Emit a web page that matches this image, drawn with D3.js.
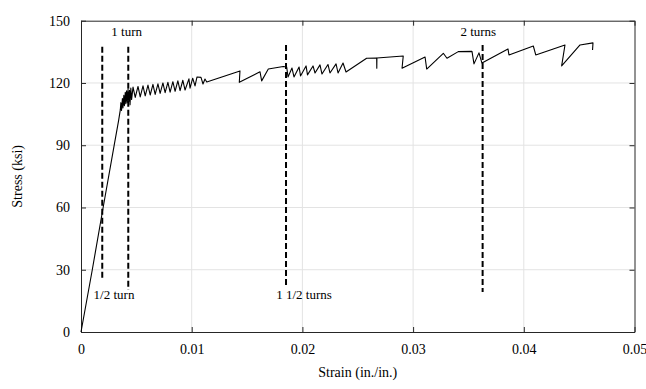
<!DOCTYPE html>
<html><head><meta charset="utf-8">
<script src="https://cdn.jsdelivr.net/npm/d3@7"></script>
<style>
body{margin:0;background:#fff;}
svg text{font-family:"Liberation Serif","Times New Roman",serif !important;fill:#000;}
</style></head>
<body><svg id="c" width="646" height="389"></svg>
<script>
const xTicks = [0, 0.01, 0.02, 0.03, 0.04, 0.05];
const xTickLabels = ["0", "0.01", "0.02", "0.03", "0.04", "0.05"];
const yTicks = [0, 30, 60, 90, 120, 150];
const yTickLabels = ["0", "30", "60", "90", "120", "150"];

const strain = [
 0, 0.00102, 0.00200, 0.00300, 0.00340, 0.00355,
 0.00360, 0.00366, 0.00374, 0.00379, 0.00387, 0.00392, 0.00400, 0.00405, 0.00412, 0.00418,
 0.00425, 0.00431, 0.00438, 0.00443, 0.00450, 0.00457,
 0.00470, 0.00490, 0.00515, 0.00535, 0.00560, 0.00580, 0.00605, 0.00625, 0.00650, 0.00670,
 0.00695, 0.00715, 0.00740, 0.00760, 0.00785, 0.00805, 0.00830, 0.00850, 0.00875, 0.00895,
 0.00920, 0.00940, 0.00975, 0.00985, 0.01009,
 0.01030, 0.01048, 0.01084, 0.01102, 0.01120, 0.01136,
 0.01436, 0.01430, 0.01617, 0.01632, 0.01692, 0.01827,
 0.01858, 0.01870, 0.01906, 0.01924, 0.01970, 0.01983, 0.02033, 0.02046, 0.02096, 0.02114,
 0.02159, 0.02177, 0.02231, 0.02249, 0.02304, 0.02322, 0.02367, 0.02394,
 0.02580, 0.02671, 0.02672, 0.02673, 0.02911, 0.02900,
 0.03108, 0.03123, 0.03273, 0.03306, 0.03408, 0.03532, 0.03550, 0.03595, 0.03622,
 0.03857, 0.03866, 0.04086, 0.04108, 0.04372, 0.04342, 0.04508, 0.04625, 0.04621
];
const stress = [
 0, 30.0, 60.0, 90.0, 102.0, 107.0,
 110.5, 106.8, 112.5, 108.0, 114.0, 109.0, 115.5, 110.0, 116.2, 110.5,
 117.0, 111.0, 116.5, 109.5, 117.5, 112.0,
 118.0, 113.0, 118.3, 113.3, 118.6, 113.8, 119.0, 114.2, 119.3, 114.5,
 119.6, 115.0, 120.0, 115.3, 120.3, 115.6, 120.6, 116.0, 121.0, 116.3,
 121.3, 116.6, 122.0, 117.5, 122.3,
 118.6, 122.9, 122.7, 119.5, 121.9, 120.5,
 125.8, 120.3, 125.4, 121.0, 126.7, 127.9,
 127.7, 122.9, 127.2, 122.9, 127.7, 123.4, 128.2, 123.9, 128.2, 124.8,
 128.7, 124.3, 128.9, 124.8, 129.2, 124.8, 129.6, 125.3,
 131.9, 132.0, 127.1, 132.0, 133.0, 127.1,
 132.5, 126.7, 134.3, 131.9, 135.1, 135.2, 129.2, 134.5, 129.6,
 136.4, 133.5, 137.8, 133.5, 138.3, 128.2, 138.3, 139.3, 135.9
];

const turnStrain = [0.00192, 0.00427, 0.01852, 0.03628];
const turnTop = [137.5, 137.5, 138.3, 138.3];
const turnBottom = [25.0, 20.2, 22.7, 19.3];
const turnLabels = ["1/2 turn", "1 turn", "1 1/2 turns", "2 turns"];
const turnLabelX = [0.00298, 0.00413, 0.02015, 0.03589];
const turnLabelY = [18.3, 145.0, 18.3, 145.0];

const W = 646, H = 389;
const m = {l: 81, r: 11.5, t: 20.7, b: 57};
const svg = d3.select("#c");
const x = d3.scaleLinear().domain([0, 0.05]).range([m.l, W - m.r]);
const y = d3.scaleLinear().domain([0, 150]).range([H - m.b, m.t]);
const FONT = "Liberation Serif, Times New Roman, serif";

// grid
const g = svg.append("g");
g.selectAll("line.gx").data(xTicks.slice(1, -1)).join("line")
 .attr("x1", d => x(d)).attr("x2", d => x(d)).attr("y1", y(0)).attr("y2", y(150))
 .attr("stroke", "#e3e3e3").attr("stroke-width", 1);
g.selectAll("line.gy").data(yTicks.slice(1, -1)).join("line")
 .attr("y1", d => y(d)).attr("y2", d => y(d)).attr("x1", x(0)).attr("x2", x(0.05))
 .attr("stroke", "#e3e3e3").attr("stroke-width", 1);

// axes
const ax = "#262626";
const xb = svg.append("g").attr("transform", `translate(0,${y(0)})`)
 .call(d3.axisBottom(x).tickValues(xTicks).tickFormat((d, i) => xTickLabels[i]).tickSizeInner(-5).tickSizeOuter(0).tickPadding(12));
const xt = svg.append("g").attr("transform", `translate(0,${y(150)})`)
 .call(d3.axisTop(x).tickValues(xTicks).tickFormat("").tickSizeInner(-5).tickSizeOuter(0));
const yl = svg.append("g").attr("transform", `translate(${x(0)},0)`)
 .call(d3.axisLeft(y).tickValues(yTicks).tickFormat((d, i) => yTickLabels[i]).tickSizeInner(-5).tickSizeOuter(0).tickPadding(11));
const yr = svg.append("g").attr("transform", `translate(${x(0.05)},0)`)
 .call(d3.axisRight(y).tickValues(yTicks).tickFormat("").tickSizeInner(-5).tickSizeOuter(0));
[xb, xt, yl, yr].forEach(a => {
  a.attr("font-family", FONT);
  a.selectAll("path.domain").attr("stroke", ax).attr("stroke-width", 1);
  a.selectAll("line").attr("stroke", ax);
  a.selectAll("text").attr("font-size", 14).style("font-family", FONT).attr("fill", "#000");
});

// dashed turn lines
svg.append("g").selectAll("line").data(turnStrain).join("line")
 .attr("x1", d => x(d)).attr("x2", d => x(d))
 .attr("y1", (d, i) => y(turnTop[i])).attr("y2", (d, i) => y(turnBottom[i]))
 .attr("stroke", "#000").attr("stroke-width", 2).attr("stroke-dasharray", "6,3");

// curve
const pts = strain.map((s, i) => [s, stress[i]]);
svg.append("path").datum(pts)
 .attr("d", d3.line().x(d => x(d[0])).y(d => y(d[1])))
 .attr("fill", "none").attr("stroke", "#000").attr("stroke-width", 1.1).attr("stroke-linejoin", "round");

// turn labels
svg.append("g").selectAll("text").data(turnLabels).join("text")
 .attr("x", (d, i) => x(turnLabelX[i])).attr("y", (d, i) => y(turnLabelY[i]))
 .attr("text-anchor", "middle").attr("dominant-baseline", "central")
 .attr("font-size", 13).style("font-family", FONT).text(d => d);

// axis titles
svg.append("text").attr("x", (x(0) + x(0.05)) / 2).attr("y", 377)
 .attr("text-anchor", "middle").attr("font-size", 14).style("font-family", FONT).text("Strain (in./in.)");
svg.append("text").attr("transform", `translate(22,${(y(0) + y(150)) / 2}) rotate(-90)`)
 .attr("text-anchor", "middle").attr("font-size", 14).style("font-family", FONT).text("Stress (ksi)");
</script></body></html>
